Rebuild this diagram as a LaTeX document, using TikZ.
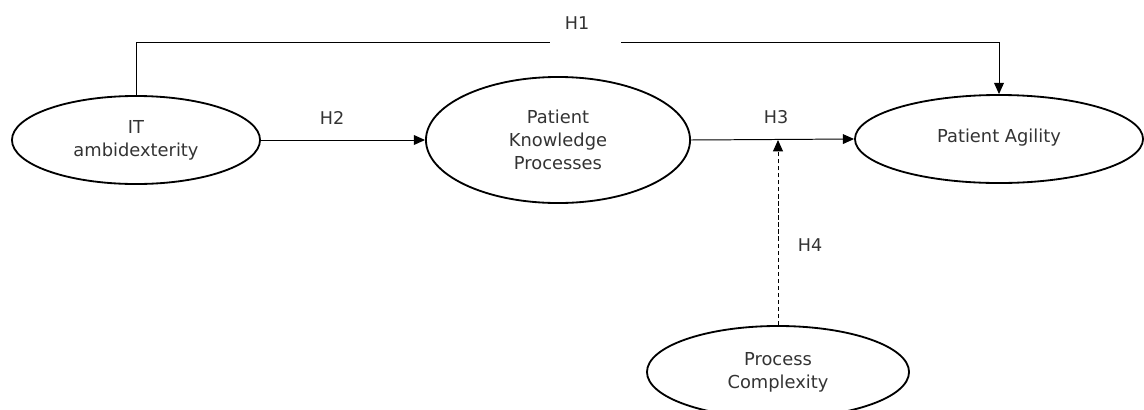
\documentclass[tikz,border=0pt]{standalone}
\usepackage{fontspec}
\setmainfont{DejaVu Sans}
\usepackage{tikz}
\usetikzlibrary{shapes.geometric,arrows.meta,positioning}

\begin{document}
\begin{tikzpicture}[
    x=0.025cm, y=-0.025cm,
    construct/.style={ellipse, draw, line width=1.3pt, inner sep=0pt, align=center, font=\fontsize{12.7}{16.3}\selectfont, text=black!80},
    hyp/.style={font=\fontsize{12.5}{15}\selectfont, text=black!80},
    link/.style={-{Triangle[length=8pt,width=7pt]}, line width=0.7pt}
]
\useasboundingbox (0,0) rectangle (1144,409);

\node[construct, minimum width=6.2cm, minimum height=2.2cm] (itamb) at (136,140) {\raisebox{-0.08cm}{IT}\\\raisebox{-0.08cm}{ambidexterity}};
\node[construct, minimum width=6.6cm, minimum height=3.15cm] (pkp) at (558,140) {Patient\\Knowledge\\Processes};
\node[construct, minimum width=7.2cm, minimum height=2.2cm] (agility) at (999,139) {\raisebox{0.15cm}{Patient Agility}};
\node[construct, minimum width=6.55cm, minimum height=2.3cm] (complexity) at (778,372) {Process\\Complexity};

% H1 from IT ambidexterity over the top
\coordinate (gapleft) at (550,42);
\coordinate (gapright) at (621,42);
\draw[line width=0.7pt] (itamb.north) |- (gapleft);
\draw[link] (gapright) -| (agility.north);
\node[hyp] (h1) at (577,23) {H1};

% H2, H3
\draw[link] (itamb.east) -- (pkp.west);
\node[hyp] (h2) at (332,118) {H2};
\draw[link] (pkp.east) -- (agility.west);
\node[hyp] (h3) at (776,117) {H3};

% H4 moderation
\coordinate (modpoint) at (complexity.north |- pkp.east);
\draw[link, dash pattern=on 3pt off 2pt] (complexity.north) -- (modpoint);
\node[hyp] (h4) at (810,245) {H4};

\end{tikzpicture}
\end{document}
